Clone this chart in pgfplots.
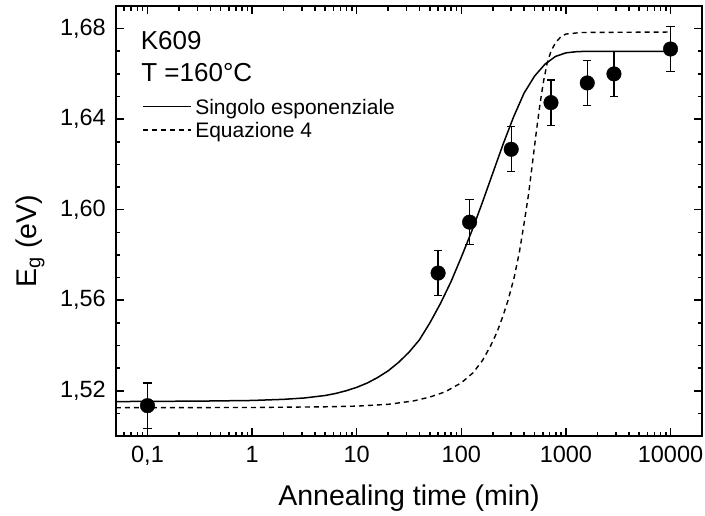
\documentclass[border=0pt]{standalone}
\usepackage{fontspec}
\setmainfont{Liberation Sans}
\usepackage{pgfplots}
\pgfplotsset{compat=1.18}
\begin{document}
\begin{tikzpicture}
\path[use as bounding box] (-116pt,-79pt) rectangle (589pt,436pt);
\begin{axis}[
  scale only axis, width=586pt, height=430pt,
  at={(0pt,0pt)}, anchor=south west,
  xmode=log, xmin=0.05, xmax=20000, ymin=1.50, ymax=1.69,
  xtick={0.1,1,10,100,1000,10000},
  xticklabels={{0,1},1,10,100,1000,10000},
  minor xtick={0.06,0.07,0.08,0.09,0.2,0.3,0.4,0.5,0.6,0.7,0.8,0.9,2,3,4,5,6,7,8,9,20,30,40,50,60,70,80,90,200,300,400,500,600,700,800,900,2000,3000,4000,5000,6000,7000,8000,9000},
  ytick={1.52,1.56,1.60,1.64,1.68},
  yticklabels={{1,52},{1,56},{1,60},{1,64},{1,68}},
  minor ytick={1.51,1.53,1.54,1.55,1.57,1.58,1.59,1.61,1.62,1.63,1.65,1.66,1.67},
  tick align=inside, tick pos=both,
  xticklabel pos=lower, yticklabel pos=left,
  major tick length=8pt, minor tick length=4.5pt,
  tick style={black, line width=1.6pt},
  axis line style={line width=2pt},
  tick label style={font=\fontsize{23.5}{26}\selectfont, inner sep=0pt},
  xticklabel shift=10pt, yticklabel shift=10pt,
  xlabel={Annealing time (min)},
  ylabel={E\textsubscript{g} (eV)},
  label style={font=\fontsize{28.5}{32}\selectfont, inner sep=0pt},
  xlabel style={at={(axis description cs:0.5,-0.1621)}, anchor=base},
  ylabel style={at={(axis description cs:-0.1353,0.4535)}, anchor=base},
]
\addplot[black, line width=1.5pt] coordinates {
(0.05,1.5152) (0.1,1.5153) (0.3,1.5154) (1,1.5157) (2,1.5162) (3.16,1.5168) (5,1.5179)
(6.3,1.5188) (7.94,1.5200) (10,1.5215) (12.6,1.5234) (15.8,1.5258) (20,1.5288) (25.1,1.5325)
(31.6,1.5370) (39.8,1.5425) (50.1,1.5500) (63.1,1.5585) (79.4,1.5680) (100,1.5790)
(125.9,1.5905) (158.5,1.6030) (199.5,1.6160) (251.2,1.6290) (316.2,1.6410) (398.1,1.6515)
(501.2,1.6590) (631,1.6643) (794.3,1.6677) (1000,1.6693) (1259,1.6698) (1585,1.6700)
(10000,1.6700)};
\addplot[black, line width=1.4pt, dash pattern=on 5pt off 4pt] coordinates {
(0.05,1.5125) (1,1.5126) (5,1.5129) (10,1.5132) (20,1.5140) (35,1.5155) (50,1.5172)
(70,1.5195) (100,1.5235) (130,1.5280) (160,1.5335) (190,1.5397) (220,1.5460) (250,1.5530)
(280,1.5600) (320,1.5700) (360,1.5815) (400,1.5945) (440,1.6070) (480,1.6210) (520,1.6340)
(565,1.6466) (610,1.6565) (660,1.6645) (720,1.6700) (800,1.6740) (900,1.6765) (1000,1.6776)
(1400,1.6783) (10000,1.6785)};
\addplot[only marks, mark=*, mark size=7.3pt, black, mark options={fill=black, draw=black},
  error bars/.cd, y dir=both, y explicit,
  error bar style={line width=1.2pt, black},
  error mark options={black, line width=1.2pt, mark size=4.2pt, rotate=90}]
  table[x=x, y=y, y error=e] {
x y e
0.1 1.5134 0.010
60 1.5720 0.010
120 1.5945 0.010
300 1.6267 0.010
720 1.6473 0.010
1600 1.6560 0.010
2880 1.6600 0.010
10000 1.6710 0.010
};
\node[anchor=base west, inner sep=0pt, font=\fontsize{26}{30}\selectfont] at (axis description cs:0.042,0.8993) {K609};
\node[anchor=base west, inner sep=0pt, font=\fontsize{26}{30}\selectfont] at (axis description cs:0.043,0.8233) {T =160°C};
\draw[black, line width=1.5pt] (axis description cs:0.0456,0.7658) -- (axis description cs:0.1280,0.7658);
\node[anchor=base west, inner sep=0pt, font=\fontsize{21}{24}\selectfont] at (axis description cs:0.1350,0.7484) {Singolo esponenziale};
\draw[black, line width=1.4pt, dash pattern=on 5pt off 4pt] (axis description cs:0.0456,0.7116) -- (axis description cs:0.1280,0.7116);
\node[anchor=base west, inner sep=0pt, font=\fontsize{21}{24}\selectfont] at (axis description cs:0.1350,0.6942) {Equazione 4};
\end{axis}
\end{tikzpicture}
\end{document}
